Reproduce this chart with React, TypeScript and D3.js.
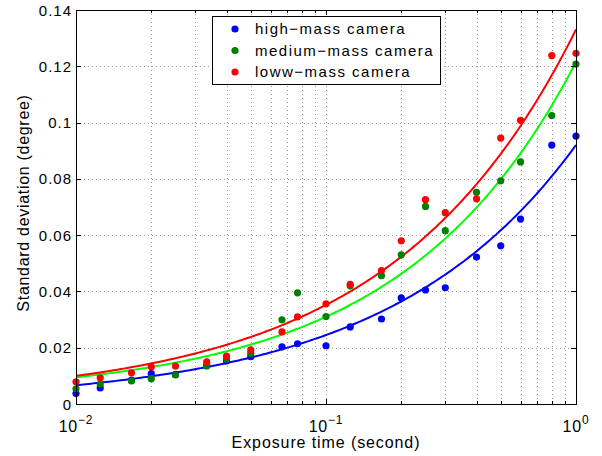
import React from 'react';
import * as d3 from 'd3';

// exposure times (s)
const exposures = [
  0.01, 1 / 80, 1 / 60, 1 / 50, 1 / 40, 1 / 30, 1 / 25, 1 / 20, 1 / 15, 1 / 13, 0.1,
  1 / 8, 1 / 6, 0.2, 0.25, 0.3, 0.4, 0.5, 0.6, 0.8, 1,
];

const highMass = [
  0.0037, 0.0057, 0.0085, 0.0108, 0.0105, 0.0138, 0.0153, 0.0168, 0.0203, 0.0214, 0.0207,
  0.0274, 0.0302, 0.0377, 0.0405, 0.0413, 0.0522, 0.0562, 0.0657, 0.0920, 0.0952,
];
const mediumMass = [
  0.0054, 0.0071, 0.0082, 0.0090, 0.0103, 0.0135, 0.0160, 0.0180, 0.0299, 0.0395, 0.0311,
  0.0420, 0.0456, 0.0530, 0.0702, 0.0616, 0.0752, 0.0793, 0.0860, 0.1025, 0.1208,
];
const lowMass = [
  0.0079, 0.0093, 0.0111, 0.0132, 0.0135, 0.0150, 0.0170, 0.0192, 0.0256, 0.0310, 0.0356,
  0.0425, 0.0474, 0.0580, 0.0726, 0.0680, 0.0729, 0.0945, 0.1008, 0.1238, 0.1246,
];

const seriesNames = ['high\u2212mass camera', 'medium\u2212mass camera', 'loww\u2212mass camera'];
const pointColors = ['#0000ff', '#008000', '#ff0000'];
const curveColors = ['#0000ff', '#00ff00', '#ff0000'];
// fitted curves  y = c + a * t^b
const fitA = [0.0917, 0.1187, 0.1318];
const fitB = [0.579, 0.624, 0.589];
const fitC = [0.00033, 0.0028, 0.00125];

const yTicks = [0, 0.02, 0.04, 0.06, 0.08, 0.1, 0.12, 0.14];
const xMajor = [-2, -1, 0];

const W = 602;
const H = 456;
const margin = { top: 10, right: 26, bottom: 52, left: 76 };
const FONT = '"Liberation Sans", Arial, Helvetica, sans-serif';

export default function App() {
  const x = d3.scaleLog().domain([0.01, 1]).range([margin.left, W - margin.right]);
  const y = d3.scaleLinear().domain([0, 0.14]).range([H - margin.bottom, margin.top]);
  const x0 = margin.left, x1 = W - margin.right, y0 = H - margin.bottom, y1 = margin.top;

  const minor: number[] = [];
  [0.01, 0.1].forEach(d => { for (let k = 2; k <= 9; k++) minor.push(d * k); });
  const allX = [...minor, 0.1];

  const series = [highMass, mediumMass, lowMass];
  const curveT = d3.range(0, 201).map(i => Math.pow(10, -2 + (2 * i) / 200));
  const line = d3.line<number>().x(t => x(t));

  return (
    <svg width={W} height={H} style={{ position: 'absolute', left: 0, top: 0, background: '#fff' }}
      fontFamily={FONT}>
      <rect x={0} y={0} width={W} height={H} fill="#fff" />
      {/* grid */}
      <g stroke="#9a9a9a" strokeWidth={1} strokeDasharray="1,3">
        {allX.map((t, i) => (
          <line key={'gx' + i} x1={Math.round(x(t)) + 0.5} x2={Math.round(x(t)) + 0.5} y1={y1} y2={y0} />
        ))}
        {yTicks.slice(1, -1).map((v, i) => (
          <line key={'gy' + i} x1={x0} x2={x1} y1={Math.round(y(v)) + 0.5} y2={Math.round(y(v)) + 0.5} />
        ))}
      </g>
      {/* fit curves */}
      {series.map((_, s) => (
        <path key={'c' + s}
          d={line.y(t => y(fitC[s] + fitA[s] * Math.pow(t, fitB[s])))(curveT) || ''}
          fill="none" stroke={curveColors[s]} strokeWidth={2} />
      ))}
      {/* points */}
      {series.map((vals, s) => (
        <g key={'p' + s} fill={pointColors[s]}>
          {vals.map((v, i) => (
            <circle key={i} cx={x(exposures[i])} cy={y(v)} r={3.6} />
          ))}
        </g>
      ))}
      {/* axes box and ticks */}
      <rect x={x0 + 0.5} y={y1 + 0.5} width={x1 - x0} height={y0 - y1} fill="none" stroke="#000" strokeWidth={1} />
      <g stroke="#000" strokeWidth={1}>
        {yTicks.map((v, i) => {
          const yy = Math.round(y(v)) + 0.5;
          return (
            <g key={'yt' + i}>
              <line x1={x0} x2={x0 + 5} y1={yy} y2={yy} />
              <line x1={x1} x2={x1 - 5} y1={yy} y2={yy} />
            </g>
          );
        })}
        {xMajor.map((e, i) => {
          const xx = Math.round(x(Math.pow(10, e))) + 0.5;
          return (
            <g key={'xt' + i}>
              <line x1={xx} x2={xx} y1={y0} y2={y0 - 5} />
              <line x1={xx} x2={xx} y1={y1} y2={y1 + 5} />
            </g>
          );
        })}
        {minor.map((t, i) => {
          const xx = Math.round(x(t)) + 0.5;
          return (
            <g key={'xm' + i}>
              <line x1={xx} x2={xx} y1={y0} y2={y0 - 3} />
              <line x1={xx} x2={xx} y1={y1} y2={y1 + 3} />
            </g>
          );
        })}
      </g>
      {/* y tick labels */}
      <g fontSize={15} letterSpacing={1} textAnchor="end" fill="#000">
        {yTicks.map((v, i) => (
          <text key={'yl' + i} x={x0 - 4} y={y(v) + 5.5}>{v === 0 ? '0' : String(v)}</text>
        ))}
      </g>
      {/* x tick labels */}
      <g fill="#000">
        {xMajor.map((e, i) => (
          <text key={'xl' + i} x={x(Math.pow(10, e))} y={y0 + 28} fontSize={16} letterSpacing={0.8} textAnchor="middle">
            10<tspan dy={-8} fontSize={12}>{e === 0 ? '0' : '\u2212' + Math.abs(e)}</tspan>
          </text>
        ))}
      </g>
      {/* axis titles */}
      <text x={(x0 + x1) / 2} y={H - 8} fontSize={16} letterSpacing={0.9} textAnchor="middle">Exposure time (second)</text>
      <text transform={`translate(29,${(y0 + y1) / 2 - 4}) rotate(-90)`} fontSize={16} letterSpacing={0.7} textAnchor="middle">
        Standard deviation (degree)
      </text>
      {/* legend */}
      <g>
        <rect x={212.5} y={16.5} width={228} height={68} fill="#fff" stroke="#000" strokeWidth={1} />
        {seriesNames.map((n, i) => (
          <g key={'lg' + i}>
            <circle cx={235} cy={29 + i * 21.5} r={3.6} fill={pointColors[i]} />
            <text x={255} y={34 + i * 21.5} fontSize={15} letterSpacing={1.5}>{n}</text>
          </g>
        ))}
      </g>
    </svg>
  );
}
